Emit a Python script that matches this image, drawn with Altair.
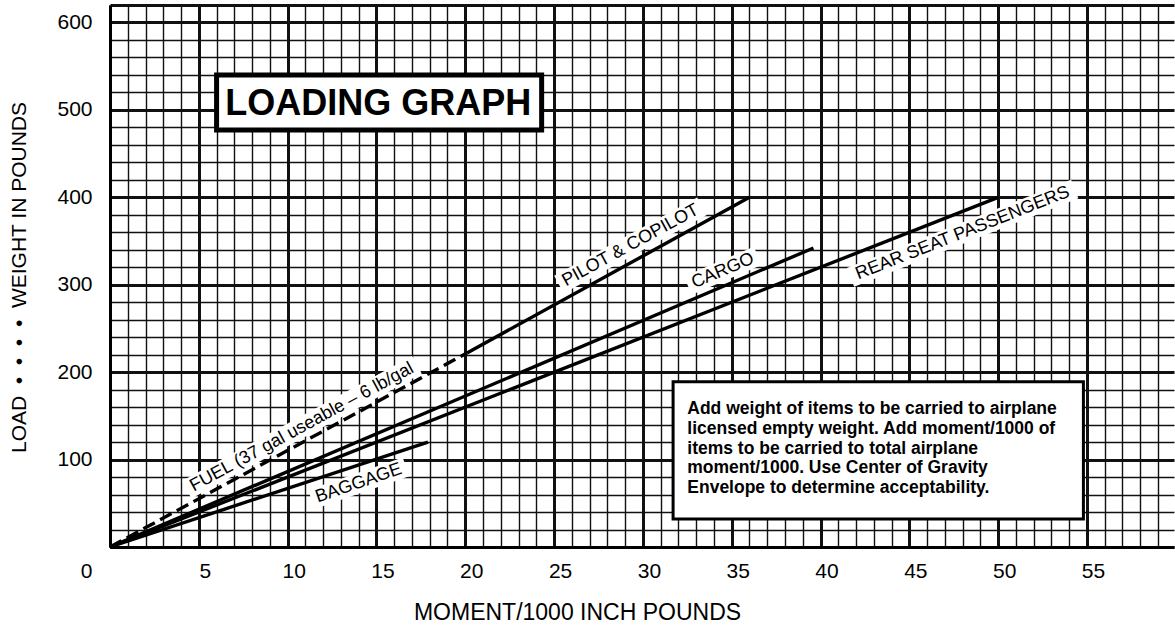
import altair as alt
import pandas as pd

FONT = "Liberation Sans"

# Grid positions along each axis
moment_ticks = list(range(0, 60))          # moment/1000 in-lb, one line per unit
weight_ticks = list(range(0, 621, 20))     # pounds, one line per 20 lb

# Loading lines: (moment/1000, weight) endpoints
fuel_moment = [0.0, 20.1]
fuel_weight = [0, 222]
pilot_moment = [20.1, 36.0]
pilot_weight = [222, 400]
cargo_moment = [0.0, 39.6]
cargo_weight = [0, 342]
rear_moment = [0.0, 50.0]
rear_weight = [0, 400]
baggage_moment = [0.0, 17.9]
baggage_weight = [0, 120]

# Line captions
caption_text = ["FUEL (37 gal useable \u2013 6 lb/gal", "PILOT & COPILOT", "CARGO",
                "REAR SEAT PASSENGERS", "BAGGAGE"]
caption_moment = [10.8, 29.3, 34.5, 48.0, 14.0]
caption_weight = [137, 345, 316, 359, 73]
caption_angle = [331.5, 331.3, 337, 338.5, 341]

note_lines = [
    "Add weight of items to be carried to airplane",
    "licensed empty weight. Add moment/1000 of",
    "items to be carried to total airplane",
    "moment/1000. Use Center of Gravity",
    "Envelope to determine acceptability.",
]

solid = pd.DataFrame({
    "series": ["pilot"] * 2 + ["cargo"] * 2 + ["rear"] * 2 + ["baggage"] * 2,
    "moment": pilot_moment + cargo_moment + rear_moment + baggage_moment,
    "weight": pilot_weight + cargo_weight + rear_weight + baggage_weight,
})
fuel = pd.DataFrame({"moment": fuel_moment, "weight": fuel_weight})
captions = pd.DataFrame({"text": caption_text, "moment": caption_moment,
                         "weight": caption_weight, "angle": caption_angle})

# White band behind each caption (pixel length of the lettering plus margin)
band_length = [262, 163, 76, 241, 100]
band_height = 20
captions["band_size"] = [L * L for L in band_length]
captions["band_shape"] = [
    "M-1,-{r:.4f}L1,-{r:.4f}L1,{r:.4f}L-1,{r:.4f}Z".format(r=band_height / L)
    for L in band_length
]

xs = alt.Scale(domain=[0, 59.9], nice=False, zero=False)
ys = alt.Scale(domain=[0, 620], nice=False, zero=False)

x_axis = alt.Axis(
    values=moment_ticks, ticks=False, grid=True, gridColor="#111",
    gridWidth={"condition": {"test": "datum.value % 5 == 0", "value": 3}, "value": 1.4},
    gridOpacity=1, domain=True, domainColor="#000", domainWidth=3,
    labelExpr="datum.value % 5 == 0 ? datum.label : ''",
    labelOverlap=False, labelFlush=False, labelFont=FONT, labelFontSize=21,
    labelColor="#000", labelPadding=13,
    labelOffset={"condition": {"test": "datum.value == 0", "value": -24}, "value": 6},
    title="MOMENT/1000 INCH POUNDS", titleFont=FONT, titleFontSize=23,
    titleFontWeight="normal", titleColor="#000", titleX=467, titleY=72,
    titleAlign="center", titleBaseline="alphabetic",
)
gap = " \u00a0"
y_axis = alt.Axis(
    values=weight_ticks, ticks=False, grid=True, gridColor="#111",
    gridWidth={"condition": {"test": "datum.value % 100 == 0 || datum.value == 620",
                             "value": 3}, "value": 1.4},
    gridOpacity=1, domain=True, domainColor="#000", domainWidth=3,
    labelExpr="datum.value % 100 == 0 && datum.value > 0 ? datum.label : ''",
    labelOverlap=False, labelFlush=False, labelFont=FONT, labelFontSize=21,
    labelColor="#000", labelPadding=18,
    title=gap.join(["LOAD", "\u2022", "\u2022", "\u2022", "\u2022", "WEIGHT IN POUNDS"]),
    titleFont=FONT, titleFontSize=21, titleFontWeight="normal", titleColor="#000",
    titleAngle=270, titleX=-85, titleY=272, titleAlign="center",
    titleBaseline="alphabetic",
)


def X(field):
    return alt.X(field, scale=xs, axis=x_axis)


def Y(field):
    return alt.Y(field, scale=ys, axis=y_axis)


lines = alt.Chart(solid).mark_line(color="#000", strokeWidth=3.4, strokeCap="butt").encode(
    x=X("moment:Q"), y=Y("weight:Q"), detail="series:N",
)
fuel_line = alt.Chart(fuel).mark_line(color="#000", strokeWidth=3.4,
                                      strokeDash=[13, 6]).encode(
    x=X("moment:Q"), y=Y("weight:Q"),
)

caption_band = alt.Chart(captions).mark_point(
    filled=True, color="#fff", opacity=1, strokeWidth=0,
).encode(
    x=X("moment:Q"), y=Y("weight:Q"),
    angle=alt.Angle("angle:Q", scale=None),
    size=alt.Size("band_size:Q", scale=None),
    shape=alt.Shape("band_shape:N", scale=None),
)

caption_ink = alt.Chart(captions).mark_text(
    font=FONT, fontSize=18, align="center", baseline="middle", color="#000",
).encode(
    x=X("moment:Q"), y=Y("weight:Q"),
    angle=alt.Angle("angle:Q", scale=None),
    text="text:N",
)

# Title box
title_box = pd.DataFrame({"x": [6.0], "x2": [24.3], "y": [477], "y2": [540]})
title_txt = pd.DataFrame({"x": [15.1], "y": [494], "text": ["LOADING GRAPH"]})
tbox = alt.Chart(title_box).mark_rect(fill="#fff", stroke="#000", strokeWidth=5).encode(
    x=X("x:Q"), x2="x2:Q", y=Y("y:Q"), y2="y2:Q",
)
ttext = alt.Chart(title_txt).mark_text(
    font=FONT, fontSize=36, fontWeight="bold", align="center", baseline="alphabetic",
    color="#000",
).encode(x=X("x:Q"), y=Y("y:Q"), text="text:N")

# Instruction note
note_box = pd.DataFrame({"x": [31.7], "x2": [54.8], "y": [32], "y2": [189]})
note_txt = pd.DataFrame({"x": [32.5], "y": [152], "text": ["\n".join(note_lines)]})
nbox = alt.Chart(note_box).mark_rect(fill="#fff", stroke="#000", strokeWidth=3).encode(
    x=X("x:Q"), x2="x2:Q", y=Y("y:Q"), y2="y2:Q",
)
ntext = alt.Chart(note_txt).mark_text(
    font=FONT, fontSize=17.5, fontWeight="bold", align="left", baseline="alphabetic",
    lineBreak="\n", lineHeight=19.7, color="#000",
).encode(x=X("x:Q"), y=Y("y:Q"), text="text:N")

chart = alt.layer(
    caption_band, lines, fuel_line, caption_ink, tbox, ttext, nbox, ntext
).properties(
    width=1064, height=542,
    autosize=alt.AutoSizeParams(type="none"),
    padding={"left": 110, "top": 5, "right": 1, "bottom": 87},
    background="#fff",
).configure_view(strokeWidth=0)

chart.save("out.html", embed_options={"renderer": "svg", "actions": False})
